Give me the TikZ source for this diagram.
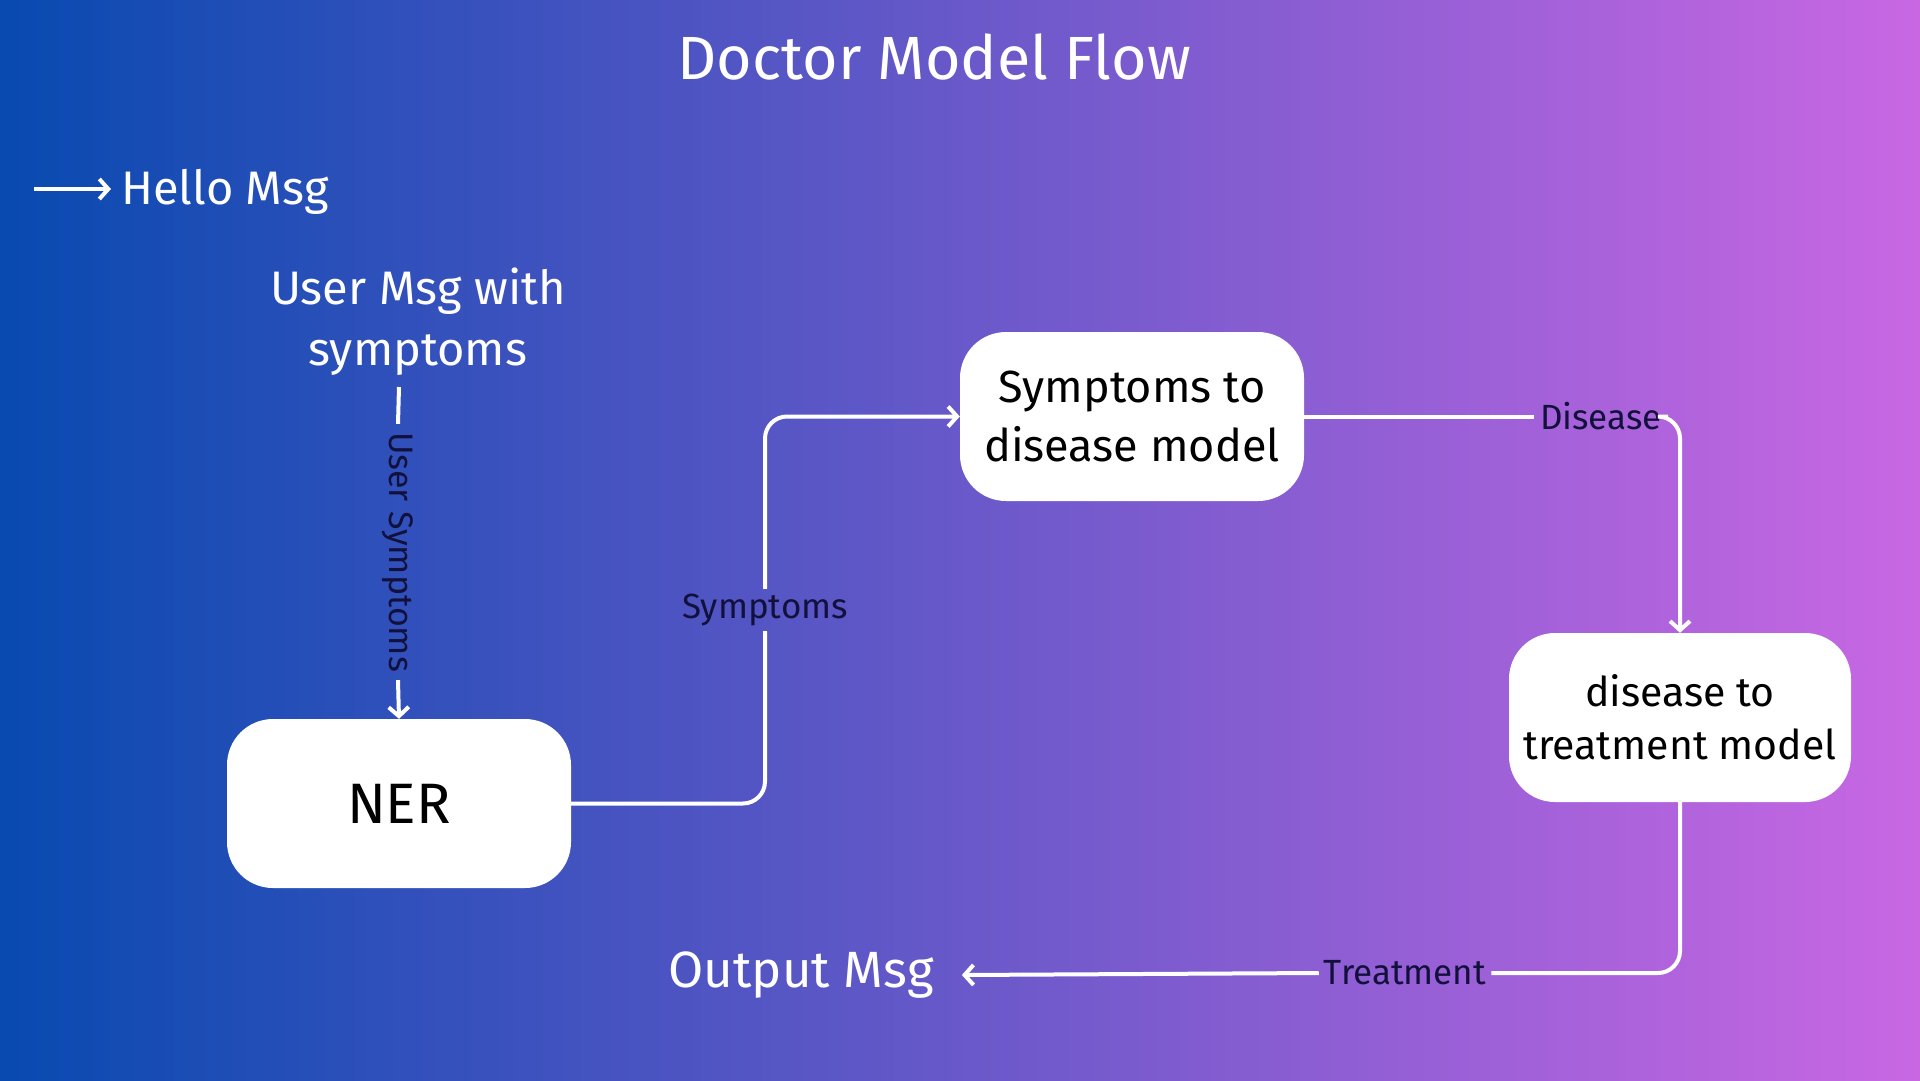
\documentclass[tikz,border=0pt]{standalone}
\usepackage{fontspec}
\setmainfont{Fira Sans}
\usetikzlibrary{arrows.meta,calc}
\definecolor{bgL}{RGB}{8,74,176}
\definecolor{bgR}{RGB}{201,103,227}
\definecolor{lbl}{RGB}{18,16,60}
\begin{document}
\begin{tikzpicture}[x=1pt,y=-1pt,
  box/.style={fill=white, rounded corners=46pt, minimum width=344pt, minimum height=169pt, align=center, text=black, inner sep=0pt},
  conn/.style={draw=white, line width=4pt},
  tip/.style={-{Straight Barb[length=9pt,width=20pt]}},
  lab/.style={text=lbl, font=\fontsize{35}{42}\selectfont, inner sep=5pt},
  big/.style={text=white, font=\fontsize{47}{61}\selectfont, align=center}]
\useasboundingbox (0,0) rectangle (1920,1080);
\fill[left color=bgL, right color=bgR] (0,0) rectangle (1920,1080);

% title
\node[text=white, font=\fontsize{61}{73}\selectfont] (title) at (934,57) {Doctor Model Flow};

% hello
\coordinate (hstart) at (34,189);
\node[big, anchor=west, inner xsep=10pt] (hello) at (111,192) {Hello Msg};
\draw[conn, tip] (hstart) -- (hello.west |- hstart);

% user msg
\node[big, inner sep=0pt, anchor=south] (umsg) at (418,376) {User Msg with\\symptoms};

% boxes
\node[box, font=\fontsize{57}{68}\selectfont] (ner) at (399,803.5) {NER};
\node[box, font=\fontsize{45}{59}\selectfont] (sd) at (1132,416.5) {Symptoms to\\disease model};
\node[box, font=\fontsize{41}{53}\selectfont, minimum width=342pt] (dt) at (1680,717.5) {disease to\\treatment model};

% output
\node[big, font=\fontsize{51}{61}\selectfont, inner xsep=28pt] (out) at (801,975) {Output Msg};

% labels
\node[lab, rotate=-90, font=\fontsize{34}{40}\selectfont, inner sep=8pt] (uslbl) at (398,552) {User Symptoms};
\node[lab] (symlbl) at (765,610) {Symptoms};
\node[lab, inner xsep=6pt] (dislbl) at (1601,416.5) {Disease};
\node[lab] (trlbl) at (1405,973) {Treatment};

% connectors
\coordinate (ustart) at ($(umsg.south -| ner.north)+(0,11)$);
\draw[conn] (ustart) -- (uslbl.west);
\draw[conn, tip] (uslbl.east) -- (ner.north);

\draw[conn, rounded corners=22pt] (ner.east) -| (symlbl.south);
\draw[conn, tip, rounded corners=22pt] (symlbl.north) |- (sd.west);

\draw[conn] (sd.east) -- (dislbl.west);
\draw[conn, tip, rounded corners=22pt] (dislbl.east) -| (dt.north);

\draw[conn, rounded corners=22pt] (dt.south) |- (trlbl.east);
\draw[conn, tip] (trlbl.west) -- (out.east);
\end{tikzpicture}
\end{document}
